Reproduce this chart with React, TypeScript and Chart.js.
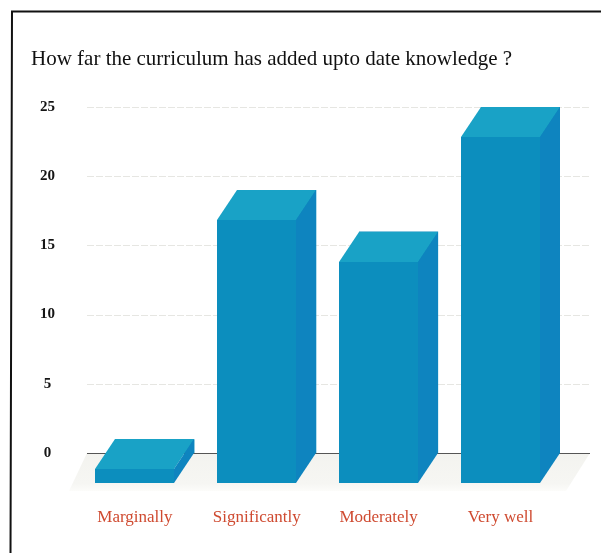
import React, { useEffect, useRef } from "react";
import { Chart, registerables } from "chart.js";

Chart.register(...registerables);

const categories = ["Marginally", "Significantly", "Moderately", "Very well"];
const responses = [1, 19, 16, 25];
const yTicks = [0, 5, 10, 15, 20, 25];
const titleText = "How far the curriculum has added upto date knowledge ?";

const DX = 20;
const DY = 30;
const FRONT = "#0c8ebe";
const TOP = "#19a2c6";
const SIDE = "#0e84bf";
const SERIF = "'Liberation Serif', serif";

const poly = (ctx: CanvasRenderingContext2D, pts: number[][], fill: any) => {
  ctx.fillStyle = fill;
  ctx.beginPath();
  pts.forEach(([x, y], i) => (i ? ctx.lineTo(x, y) : ctx.moveTo(x, y)));
  ctx.closePath();
  ctx.fill();
};

const scenePlugin = {
  id: "scene",
  beforeDatasetsDraw(chart: any) {
    const { ctx, scales } = chart;
    const y0 = Math.round(scales.y.getPixelForValue(0));
    const L = 87;
    const R = 590;
    ctx.save();
    // paper frame
    ctx.strokeStyle = "#111";
    ctx.lineWidth = 2;
    ctx.beginPath();
    ctx.moveTo(10.5, 553);
    ctx.lineTo(12, 11.5);
    ctx.lineTo(601, 11.5);
    ctx.stroke();
    // floor
    const grad = ctx.createLinearGradient(0, y0, 0, y0 + DY + 8);
    grad.addColorStop(0, "#f3f3ef");
    grad.addColorStop(0.8, "#f6f6f3");
    grad.addColorStop(1, "#fcfcfa");
    poly(ctx, [[L, y0], [R, y0], [R - DX - 4, y0 + DY + 8], [L - DX + 2, y0 + DY + 8]], grad);
    // grid lines
    ctx.lineWidth = 1;
    ctx.strokeStyle = "#e6e6e2";
    ctx.setLineDash([7, 2]);
    yTicks.slice(1).forEach((t) => {
      const py = Math.round(scales.y.getPixelForValue(t)) + 0.5;
      ctx.beginPath();
      ctx.moveTo(L, py);
      ctx.lineTo(R, py);
      ctx.stroke();
    });
    ctx.setLineDash([]);
    ctx.strokeStyle = "#555";
    ctx.beginPath();
    ctx.moveTo(L, y0 + 0.5);
    ctx.lineTo(R, y0 + 0.5);
    ctx.stroke();
    ctx.restore();
  },
  afterDatasetsDraw(chart: any) {
    const { ctx } = chart;
    ctx.save();
    chart.getDatasetMeta(0).data.forEach((bar: any) => {
      const hw = bar.width / 2;
      const xl = Math.round(bar.x - hw);
      const xr = Math.round(bar.x + hw);
      const top = Math.round(bar.y);
      const base = Math.round(bar.base);
      // bar element sits on the back plane; the front face is projected towards the viewer
      poly(ctx, [[xl, top], [xr, top], [xr - DX, top + DY], [xl - DX, top + DY]], TOP);
      poly(ctx, [[xr, top], [xr, base], [xr - DX, base + DY], [xr - DX, top + DY]], SIDE);
      ctx.fillStyle = FRONT;
      ctx.fillRect(xl - DX, top + DY, xr - xl, base - top);
    });
    ctx.restore();
  },
};

export default function App() {
  const ref = useRef<HTMLCanvasElement>(null);
  useEffect(() => {
    document.body.style.margin = "0";
    document.body.style.background = "#fff";
    const chart = new Chart(ref.current!, {
      type: "bar",
      data: {
        labels: categories,
        datasets: [
          {
            data: responses,
            backgroundColor: FRONT,
            borderWidth: 0,
            barPercentage: 1,
            categoryPercentage: 0.649,
          },
        ],
      },
      options: {
        responsive: false,
        animation: false,
        layout: { padding: { left: 31, right: 14, top: 0, bottom: 0 } },
        plugins: {
          legend: { display: false },
          tooltip: { enabled: false },
          title: {
            display: true,
            text: titleText,
            align: "start",
            color: "#111",
            font: { family: SERIF, size: 21, weight: "normal" },
            padding: { top: 47, bottom: 34.8 },
          },
        },
        scales: {
          x: {
            grid: { display: false },
            border: { display: false },
            afterFit: (s: any) => {
              s.height = 100;
            },
            ticks: {
              color: "#cf4a30",
              font: { family: SERIF, size: 17 },
              padding: 46,
              labelOffset: -20,
              maxRotation: 0,
            },
          },
          y: {
            min: 0,
            max: 25,
            afterFit: (s: any) => {
              s.width = 63;
            },
            grid: { display: false },
            border: { display: false },
            ticks: {
              stepSize: 5,
              color: "#151515",
              font: { family: SERIF, size: 15, weight: "bold" },
              padding: 31,
              crossAlign: "center",
            },
          },
        },
      },
      plugins: [scenePlugin],
    } as any);
    return () => chart.destroy();
  }, []);
  return <canvas ref={ref} width={601} height={553} style={{ display: "block" }} />;
}
